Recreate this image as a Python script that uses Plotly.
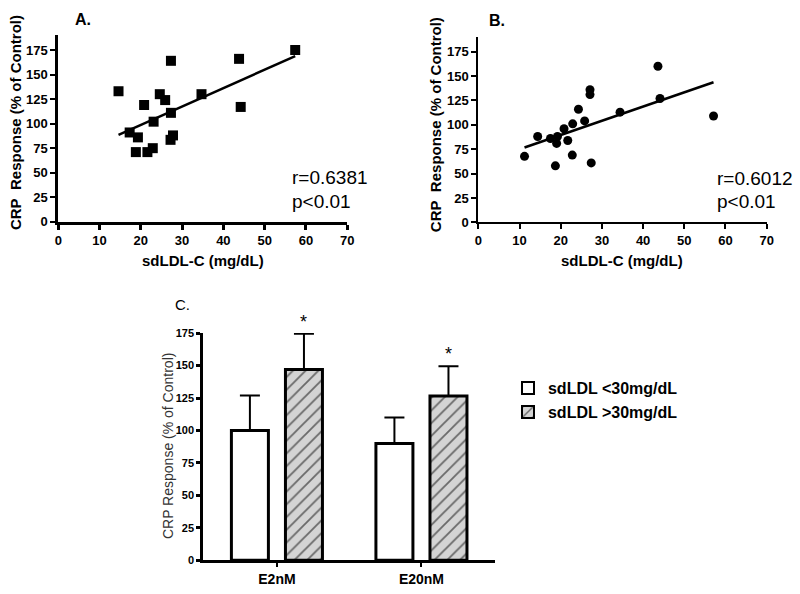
import numpy as np
import plotly.graph_objects as go

# ---------------- data ----------------
a_x = [14.6, 17.3, 19.3, 18.8, 20.8, 21.6, 22.9, 23.1, 24.6, 25.9, 27.3, 27.3, 27.2, 27.8, 34.7, 43.8, 44.2, 57.4]
a_y = [133, 91, 86, 71, 119, 71, 75, 102, 130, 124, 164, 111, 83.5, 88, 130, 166, 117, 175]

b_x = [11.2, 14.4, 17.5, 19.2, 19.0, 18.7, 20.8, 21.7, 22.9, 22.8, 24.3, 25.8, 27.1, 27.1, 27.4, 34.4, 43.6, 44.1, 57.1]
b_y = [67.7, 88, 86, 88, 81, 58, 96, 84, 101, 69, 116, 104, 136, 131, 61, 113, 160, 127, 109]

categories = ["E2nM", "E20nM"]
low_vals = [100, 90]
low_err = [27, 20]
high_vals = [147, 126.5]
high_err = [27.5, 23]

scatter_ticks = [0, 25, 50, 75, 100, 125, 150, 175]
x_ticks = [0, 10, 20, 30, 40, 50, 60, 70]

FONT = "Liberation Sans, Arial, sans-serif"
W, H = 800, 594


def px(xp):
    return xp / W


def py(yp):
    return 1 - yp / H


fig = go.Figure()

# ---- Panel A ----
fig.add_trace(go.Scatter(x=a_x, y=a_y, mode="markers", xaxis="x", yaxis="y",
                         marker=dict(symbol="square", size=10, color="black"),
                         showlegend=False, cliponaxis=False))
ca = np.polyfit(a_x, a_y, 1)
lx = [min(a_x), max(a_x)]
fig.add_trace(go.Scatter(x=lx, y=[ca[0] * v + ca[1] for v in lx], mode="lines",
                         xaxis="x", yaxis="y", line=dict(color="black", width=2.5),
                         showlegend=False))

# ---- Panel B ----
fig.add_trace(go.Scatter(x=b_x, y=b_y, mode="markers", xaxis="x2", yaxis="y2",
                         marker=dict(symbol="circle", size=9, color="black"),
                         showlegend=False, cliponaxis=False))
cb = np.polyfit(b_x, b_y, 1)
lxb = [min(b_x), max(b_x)]
fig.add_trace(go.Scatter(x=lxb, y=[cb[0] * v + cb[1] for v in lxb], mode="lines",
                         xaxis="x2", yaxis="y2", line=dict(color="black", width=2.5),
                         showlegend=False))

# ---- Panel C ----
fig.add_trace(go.Bar(x=categories, y=low_vals, xaxis="x3", yaxis="y3",
                     name="sdLDL &lt;30mg/dL", width=0.256, offset=-0.315,
                     marker=dict(color="white", line=dict(color="black", width=3)),
                     error_y=dict(type="data", symmetric=False, array=low_err,
                                  arrayminus=[0, 0], color="black", thickness=2, width=10)))
fig.add_trace(go.Bar(x=categories, y=high_vals, xaxis="x3", yaxis="y3",
                     name="sdLDL &gt;30mg/dL", width=0.256, offset=0.059,
                     marker=dict(color="#d4d4d4", line=dict(color="black", width=3),
                                 pattern=dict(shape="/", fgcolor="black", bgcolor="#d4d4d4",
                                              size=9, solidity=0.2)),
                     error_y=dict(type="data", symmetric=False, array=high_err,
                                  arrayminus=[0, 0], color="black", thickness=2, width=10)))

annotations = []
for i, (v, e) in enumerate(zip(high_vals, high_err)):
    annotations.append(dict(x=i + 0.187, y=v + e, xref="x3", yref="y3", text="*",
                            showarrow=False, xanchor="center", yanchor="bottom", yshift=0,
                            font=dict(family=FONT, size=18, color="black")))

stat_font = dict(family=FONT, size=19, color="black")
annotations += [
    dict(x=56.1, y=45, xref="x", yref="y", text="r=0.6381", showarrow=False,
         xanchor="left", yanchor="middle", font=stat_font),
    dict(x=56.1, y=21, xref="x", yref="y", text="p<0.01", showarrow=False,
         xanchor="left", yanchor="middle", font=stat_font),
    dict(x=57.4, y=45, xref="x2", yref="y2", text="r=0.6012", showarrow=False,
         xanchor="left", yanchor="middle", font=stat_font),
    dict(x=57.4, y=21, xref="x2", yref="y2", text="p<0.01", showarrow=False,
         xanchor="left", yanchor="middle", font=stat_font),
]


def paper_text(xp, yp, text, font, angle=0):
    return dict(x=px(xp), y=py(yp), xref="paper", yref="paper", text=text,
                showarrow=False, xanchor="center", yanchor="middle",
                textangle=angle, font=font)


bold15 = dict(family=FONT, size=15, color="black", weight="bold")
ytitle = "CRP\u00a0\u00a0Response (% of Control)"
annotations += [
    paper_text(80, 14, "A.", dict(family=FONT, size=16, color="black", weight="bold")),
    paper_text(500, 15, "B.", dict(family=FONT, size=16, color="black", weight="bold")),
    paper_text(181, 306, "C.", dict(family=FONT, size=15, color="black")),
    paper_text(11, 119, ytitle, bold15, -90),
    paper_text(437, 121, ytitle, bold15, -90),
    paper_text(201.5, 261, "sdLDL-C (mg/dL)", bold15),
    paper_text(627, 261, "sdLDL-C (mg/dL)", bold15),
    paper_text(167, 451, "CRP Response (% of Control)",
               dict(family=FONT, size=14, color="#333"), -90),
]

tickfont_b = dict(family=FONT, size=13, color="black", weight="bold")
common = dict(showgrid=False, zeroline=False, showline=True, linecolor="black",
              ticks="outside", tickcolor="black")

fig.update_layout(
    width=W, height=H, margin=dict(l=0, r=0, t=0, b=0),
    paper_bgcolor="white", plot_bgcolor="white",
    font=dict(family=FONT, color="black"),
    barmode="overlay",
    xaxis=dict(domain=[px(55), px(348)], range=[0, 70], tickvals=x_ticks, anchor="y",
               linewidth=3, tickwidth=3, ticklen=5, tickfont=tickfont_b, **common),
    yaxis=dict(domain=[py(221), py(30)], range=[0, 190], tickvals=scatter_ticks, anchor="x",
               linewidth=3, tickwidth=2, ticklen=5, tickfont=tickfont_b, **common),
    xaxis2=dict(domain=[px(481), px(773.3)], range=[0, 70], tickvals=x_ticks, anchor="y2",
                linewidth=2, tickwidth=2, ticklen=5, tickfont=tickfont_b, **common),
    yaxis2=dict(domain=[py(221.7), py(31.7)], range=[0, 190], tickvals=scatter_ticks, anchor="x2",
                linewidth=2, tickwidth=2, ticklen=5, tickfont=tickfont_b, **common),
    xaxis3=dict(domain=[px(202), px(498)], range=[-0.51, 1.51], anchor="y3",
                linewidth=3, tickwidth=2, ticklen=4,
                tickfont=dict(family=FONT, size=14, color="black", weight="bold"), **common),
    yaxis3=dict(domain=[py(567.7), py(335)], range=[0, 175], tickvals=scatter_ticks, anchor="x3",
                linewidth=3, tickwidth=3, ticklen=4,
                tickfont=dict(family=FONT, size=11, color="black", weight="bold"), **common),
    legend=dict(x=px(511), y=py(374), xanchor="left", yanchor="top",
                font=dict(family=FONT, size=16, color="black", weight="bold"),
                bgcolor="rgba(0,0,0,0)", tracegroupgap=0, itemsizing="constant"),
    annotations=annotations,
    showlegend=True,
)

fig.write_html("out.html", config={"displayModeBar": False},
               post_script="document.body.style.margin='0';document.body.style.overflow='hidden';")
